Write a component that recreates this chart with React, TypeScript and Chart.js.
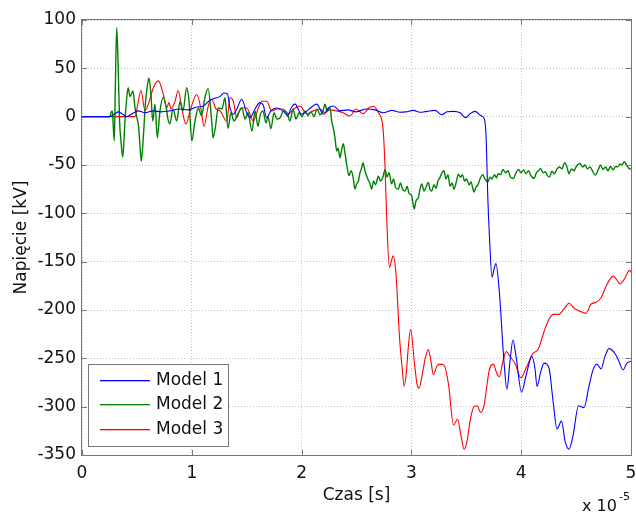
import React, { useEffect, useRef } from "react";
import { Chart, registerables } from "chart.js";

Chart.register(...registerables);

// time in units of 1e-5 s, voltage in kV
const xTickValues = [0, 1, 2, 3, 4, 5];
const yTickValues = [100, 50, 0, -50, -100, -150, -200, -250, -300, -350];
const seriesNames = ["Model 1", "Model 2", "Model 3"];
const seriesColors = ["#0000ff", "#008000", "#ff0000"];
const xAxisTitle = "Czas [s]";
const yAxisTitle = "Napięcie [kV]";
const xExponentBase = "x 10";
const xExponent = "-5";

const model1Points: [number, number][] = [
  [0, 0], [0.25, 0], [0.3, 3], [0.33, 5], [0.364, 3], [0.407, 0], [0.455, 3], [0.513, 6], [0.574, 4],
  [0.65, 6], [0.72, 5], [0.8, 6], [0.89, 8], [0.965, 7], [1.045, 10], [1.105, 11], [1.166, 17], [1.21, 19],
  [1.257, 21], [1.293, 24.5], [1.325, 23.5], [1.348, 9], [1.378, 2.5], [1.41, 8], [1.455, 18], [1.5, 4],
  [1.53, -1], [1.576, 8], [1.62, 14.5], [1.65, 12], [1.682, -1], [1.72, 6], [1.773, 9], [1.83, 6], [1.876, 1],
  [1.9, 8], [1.94, 13], [2.0, 2.5], [2.06, 7], [2.137, 13], [2.2, 2.5], [2.243, 9], [2.29, 11], [2.35, 6],
  [2.42, 7], [2.495, 5], [2.593, 8], [2.67, 7], [2.744, 4], [2.823, 6.5], [2.896, 4.5], [2.95, 5], [3.017, 6.5],
  [3.078, 4.5], [3.142, 5.5], [3.215, 6.5], [3.276, 2], [3.324, 5], [3.385, 5.5], [3.443, 4], [3.494, -1],
  [3.534, 3], [3.579, 5.5], [3.634, 1], [3.665, -2.5], [3.68, -20], [3.696, -84], [3.71, -122], [3.734, -166],
  [3.752, -158], [3.77, -152], [3.8, -180], [3.843, -253], [3.87, -282], [3.898, -253], [3.925, -231],
  [3.953, -248], [4.003, -285], [4.044, -268], [4.098, -248], [4.126, -261], [4.144, -279], [4.18, -263],
  [4.208, -255], [4.253, -260], [4.29, -294], [4.326, -323], [4.367, -315], [4.4, -336], [4.435, -344],
  [4.472, -330], [4.522, -299], [4.572, -301], [4.617, -279], [4.654, -262], [4.69, -256], [4.727, -261],
  [4.763, -248], [4.8, -240], [4.854, -245], [4.89, -253], [4.927, -262], [4.963, -255], [5.0, -253],
];

const model2Points: [number, number][] = [
  [0, 0], [0.255, 0], [0.264, 4], [0.276, 6], [0.285, -10], [0.294, -25], [0.303, 27], [0.316, 92],
  [0.328, 57.5], [0.342, -4], [0.355, -25], [0.371, -42], [0.382, -25], [0.391, -4.5], [0.405, 16], [0.42, 30],
  [0.437, 21], [0.45, 23.5], [0.464, 26.5], [0.483, 9], [0.496, 1], [0.516, -11], [0.528, -30], [0.54, -46],
  [0.558, -22], [0.577, 13], [0.592, 29], [0.61, 40], [0.628, 23.5], [0.644, -4.5], [0.665, 13], [0.686, -22],
  [0.71, 6], [0.74, 20], [0.765, 11], [0.783, -2.5], [0.8, -7.5], [0.829, 8], [0.862, -4.5], [0.893, 16],
  [0.92, 6], [0.953, 30], [0.975, 16], [1.0, -25], [1.029, -4.5], [1.06, 9], [1.088, 1], [1.12, 20],
  [1.148, 29], [1.181, -4.5], [1.193, -22], [1.216, -10], [1.24, 9], [1.275, 8], [1.302, 19.5], [1.33, -12],
  [1.357, 4], [1.384, -4.5], [1.42, 3], [1.457, 9], [1.485, -2.5], [1.512, 4], [1.548, -15], [1.576, 6],
  [1.603, -10], [1.621, 1], [1.648, 6], [1.676, -6.5], [1.694, 0], [1.72, -12.5], [1.749, 4], [1.776, -2.5],
  [1.803, -1.5], [1.835, 6], [1.867, 4], [1.894, -4.5], [1.922, 8], [1.949, -2.5], [1.976, 4], [2.004, 0],
  [2.031, 6], [2.058, 1], [2.086, 5], [2.113, 0], [2.14, 8], [2.168, 2], [2.195, 6], [2.213, 13], [2.231, 6],
  [2.259, 9], [2.274, -4.5], [2.29, -12.5], [2.304, -22], [2.32, -35.5], [2.331, -32.5], [2.35, -42.5],
  [2.363, -35.5], [2.38, -28], [2.395, -37.5], [2.41, -49], [2.431, -61], [2.45, -56], [2.47, -63],
  [2.485, -75], [2.5, -70], [2.517, -66.5], [2.532, -58], [2.547, -53], [2.559, -47.5], [2.577, -56],
  [2.596, -62.5], [2.623, -69.5], [2.638, -75], [2.655, -66.5], [2.673, -70.5], [2.699, -61.5], [2.719, -66.5],
  [2.741, -62.5], [2.76, -54.5], [2.778, -62.5], [2.796, -58], [2.82, -69.5], [2.837, -64.5], [2.855, -73],
  [2.881, -75], [2.9, -68.5], [2.919, -75], [2.942, -77], [2.96, -72], [2.978, -79], [3.003, -82], [3.015, -90],
  [3.026, -95.5], [3.042, -87], [3.063, -84], [3.078, -75], [3.094, -69.5], [3.115, -77], [3.133, -73],
  [3.154, -68], [3.169, -75], [3.185, -77], [3.206, -70.5], [3.224, -74], [3.242, -66.5], [3.26, -63],
  [3.279, -58], [3.297, -56], [3.315, -64.5], [3.333, -60], [3.352, -72], [3.37, -68.5], [3.388, -75],
  [3.411, -66.5], [3.427, -59.5], [3.447, -62.5], [3.465, -60], [3.484, -66.5], [3.502, -64.5], [3.525, -70.5],
  [3.543, -67.5], [3.57, -78], [3.588, -73], [3.606, -70.5], [3.625, -64.5], [3.649, -60], [3.67, -64.5],
  [3.696, -67.5], [3.716, -62.5], [3.734, -64.5], [3.757, -60], [3.775, -63.5], [3.789, -59], [3.812, -60],
  [3.834, -54.5], [3.857, -58], [3.88, -56], [3.903, -62.5], [3.929, -64], [3.953, -58], [3.975, -54.5],
  [3.998, -58], [4.021, -55], [4.044, -59], [4.066, -56], [4.089, -61], [4.116, -64], [4.139, -58], [4.157, -56],
  [4.177, -53.5], [4.198, -58], [4.221, -57], [4.239, -61], [4.258, -62.5], [4.28, -56.5], [4.303, -59],
  [4.326, -54], [4.349, -52], [4.371, -54], [4.395, -47.5], [4.417, -52], [4.435, -59], [4.458, -54],
  [4.481, -56], [4.504, -51], [4.536, -48.5], [4.558, -52], [4.581, -50], [4.604, -54], [4.627, -52],
  [4.649, -56], [4.675, -60.5], [4.703, -54.5], [4.722, -50], [4.745, -54.5], [4.768, -52], [4.79, -56],
  [4.813, -51.5], [4.836, -55], [4.859, -51.5], [4.877, -52], [4.9, -49], [4.918, -50], [4.939, -46.5],
  [4.959, -50], [4.977, -53], [5.0, -54.5],
];

const model3Points: [number, number][] = [
  [0, 0], [0.483, 0], [0.505, 11], [0.537, 27], [0.574, 6], [0.604, 13], [0.65, 30], [0.695, 37],
  [0.74, 23.5], [0.771, 9], [0.792, 14.5], [0.81, 8], [0.847, 16], [0.877, 27], [0.908, 9], [0.947, -7.5],
  [0.984, 6], [1.045, 23], [1.084, 8], [1.111, -10], [1.15, 11], [1.181, 18], [1.22, 8], [1.257, 6],
  [1.318, -4.5], [1.348, 19.5], [1.378, 16], [1.409, -1], [1.448, 9], [1.5, 9], [1.56, -4.5], [1.603, 8],
  [1.64, 16], [1.682, 16], [1.728, 6], [1.776, 8], [1.833, 8], [1.876, 3], [1.93, 8], [1.985, 11],
  [2.046, 3], [2.104, 6], [2.168, 8], [2.213, 4], [2.259, 7], [2.32, 6], [2.377, 4], [2.44, 0.7], [2.495, 8],
  [2.559, 3], [2.623, 10], [2.66, 10.5], [2.7, 4], [2.73, -3], [2.744, -15], [2.76, -53], [2.775, -105],
  [2.8, -156], [2.814, -151], [2.835, -144], [2.86, -163], [2.89, -225], [2.914, -258], [2.935, -279],
  [2.955, -263], [2.973, -237], [2.993, -220], [3.026, -253], [3.05, -276], [3.07, -281], [3.097, -268],
  [3.124, -251], [3.154, -241], [3.178, -253], [3.2, -267], [3.233, -258], [3.26, -256], [3.297, -257],
  [3.338, -277], [3.384, -319], [3.42, -313], [3.452, -330], [3.48, -344], [3.506, -336], [3.534, -315],
  [3.57, -300], [3.598, -299], [3.631, -306], [3.661, -299], [3.708, -263], [3.746, -256], [3.77, -263],
  [3.8, -269], [3.834, -253], [3.863, -243], [3.898, -248], [3.947, -256], [3.996, -270], [4.049, -259],
  [4.1, -246], [4.157, -240], [4.203, -224], [4.25, -210], [4.296, -204.5], [4.342, -204.5], [4.389, -199],
  [4.435, -193], [4.481, -198], [4.528, -201], [4.59, -203.5], [4.636, -194], [4.681, -192], [4.729, -187],
  [4.775, -175], [4.837, -165], [4.872, -169], [4.9, -173], [4.945, -167], [4.985, -159], [5.0, -161],
];

const seriesPoints = [model1Points, model2Points, model3Points];
const seriesWidths = [1.1, 1.4, 1.1];

const FONT = "'DejaVu Sans', Verdana, sans-serif";
const TEXT = "#111111";
const FRAME = "#777777";

const framePlugin = {
  id: "matlabFrame",
  afterDraw(chart: any) {
    const { ctx, chartArea, scales } = chart;
    const { left, right, top, bottom } = chartArea;
    const xs = scales.x;
    const ys = scales.y;
    ctx.save();
    ctx.setLineDash([]);
    ctx.strokeStyle = FRAME;
    ctx.lineWidth = 1;
    ctx.strokeRect(Math.round(left) - 0.5, Math.round(top) - 0.5, Math.round(right - left) + 1, Math.round(bottom - top) + 1);
    ctx.beginPath();
    for (const v of xTickValues) {
      const px = Math.round(xs.getPixelForValue(v)) + 0.5;
      ctx.moveTo(px, bottom);
      ctx.lineTo(px, bottom - 5);
      ctx.moveTo(px, top);
      ctx.lineTo(px, top + 5);
    }
    for (const v of yTickValues) {
      const py = Math.round(ys.getPixelForValue(v)) + 0.5;
      ctx.moveTo(left, py);
      ctx.lineTo(left + 5, py);
      ctx.moveTo(right, py);
      ctx.lineTo(right - 5, py);
    }
    ctx.stroke();

    // legend
    const lx = 88.5, ly = 364.5, lw = 140, lh = 82;
    ctx.fillStyle = "#ffffff";
    ctx.fillRect(lx, ly, lw, lh);
    ctx.strokeStyle = FRAME;
    ctx.lineWidth = 1;
    ctx.strokeRect(lx, ly, lw, lh);
    ctx.font = `17px ${FONT}`;
    ctx.textBaseline = "middle";
    ctx.textAlign = "left";
    const rows = [380, 404, 429];
    for (let i = 0; i < seriesNames.length; i++) {
      ctx.fillStyle = seriesColors[i];
      ctx.fillRect(100, rows[i], 50, 1.3);
      ctx.fillStyle = TEXT;
      ctx.fillText(seriesNames[i], 156, rows[i] + 1);
    }

    // exponent label
    ctx.fillStyle = TEXT;
    ctx.textBaseline = "alphabetic";
    ctx.font = `16px ${FONT}`;
    ctx.fillText(xExponentBase, 582, 511);
    ctx.font = `11px ${FONT}`;
    ctx.fillText(xExponent, 619, 500);
    ctx.restore();
  },
};

export default function App() {
  const canvasRef = useRef<HTMLCanvasElement | null>(null);

  useEffect(() => {
    const canvas = canvasRef.current;
    if (!canvas) return;
    const chart = new Chart(canvas, {
      type: "line",
      data: {
        datasets: seriesPoints.map((pts, i) => ({
          label: seriesNames[i],
          data: pts.map(([x, y]) => ({ x, y })),
          borderColor: seriesColors[i],
          backgroundColor: seriesColors[i],
          borderWidth: seriesWidths[i],
          pointRadius: 0,
          cubicInterpolationMode: "monotone" as const,
          fill: false,
        })),
      },
      options: {
        animation: false,
        responsive: false,
        maintainAspectRatio: false,
        events: [],
        layout: { padding: { left: 0, right: 5, top: 20, bottom: 0 } },
        plugins: {
          legend: { display: false },
          tooltip: { enabled: false },
        },
        scales: {
          x: {
            type: "linear",
            min: 0,
            max: 5,
            afterFit(scale: any) {
              scale.height = 58;
              scale.paddingLeft = 0;
              scale.paddingRight = 0;
            },
            afterBuildTicks(scale: any) {
              scale.ticks = xTickValues.map((v) => ({ value: v }));
            },
            ticks: {
              autoSkip: false,
              maxRotation: 0,
              padding: 8,
              color: TEXT,
              font: { family: FONT, size: 17 },
              callback: (v: any) => String(v),
            },
            grid: { color: "#c4c4c4", lineWidth: 1, drawTicks: false },
            border: { display: false, dash: [1, 2] },
            title: {
              display: true,
              text: xAxisTitle,
              color: TEXT,
              font: { family: FONT, size: 17 },
              padding: { top: 0, bottom: 7 },
            },
          },
          y: {
            type: "linear",
            min: -350,
            max: 100,
            afterFit(scale: any) {
              scale.width = 82;
              scale.paddingTop = 0;
              scale.paddingBottom = 0;
            },
            afterBuildTicks(scale: any) {
              scale.ticks = yTickValues.map((v) => ({ value: v }));
            },
            ticks: {
              autoSkip: false,
              padding: 6,
              color: TEXT,
              font: { family: FONT, size: 17 },
              callback: (v: any) => String(v),
            },
            grid: { color: "#c4c4c4", lineWidth: 1, drawTicks: false },
            border: { display: false, dash: [1, 2] },
            title: {
              display: true,
              text: yAxisTitle,
              color: TEXT,
              font: { family: FONT, size: 17 },
              padding: { top: 11, bottom: 0 },
            },
          },
        },
      },
      plugins: [framePlugin],
    });
    return () => chart.destroy();
  }, []);

  return (
    <div style={{ position: "fixed", left: 0, top: 0, width: 636, height: 513, background: "#ffffff" }}>
      <canvas ref={canvasRef} width={636} height={513} style={{ display: "block" }} />
    </div>
  );
}
